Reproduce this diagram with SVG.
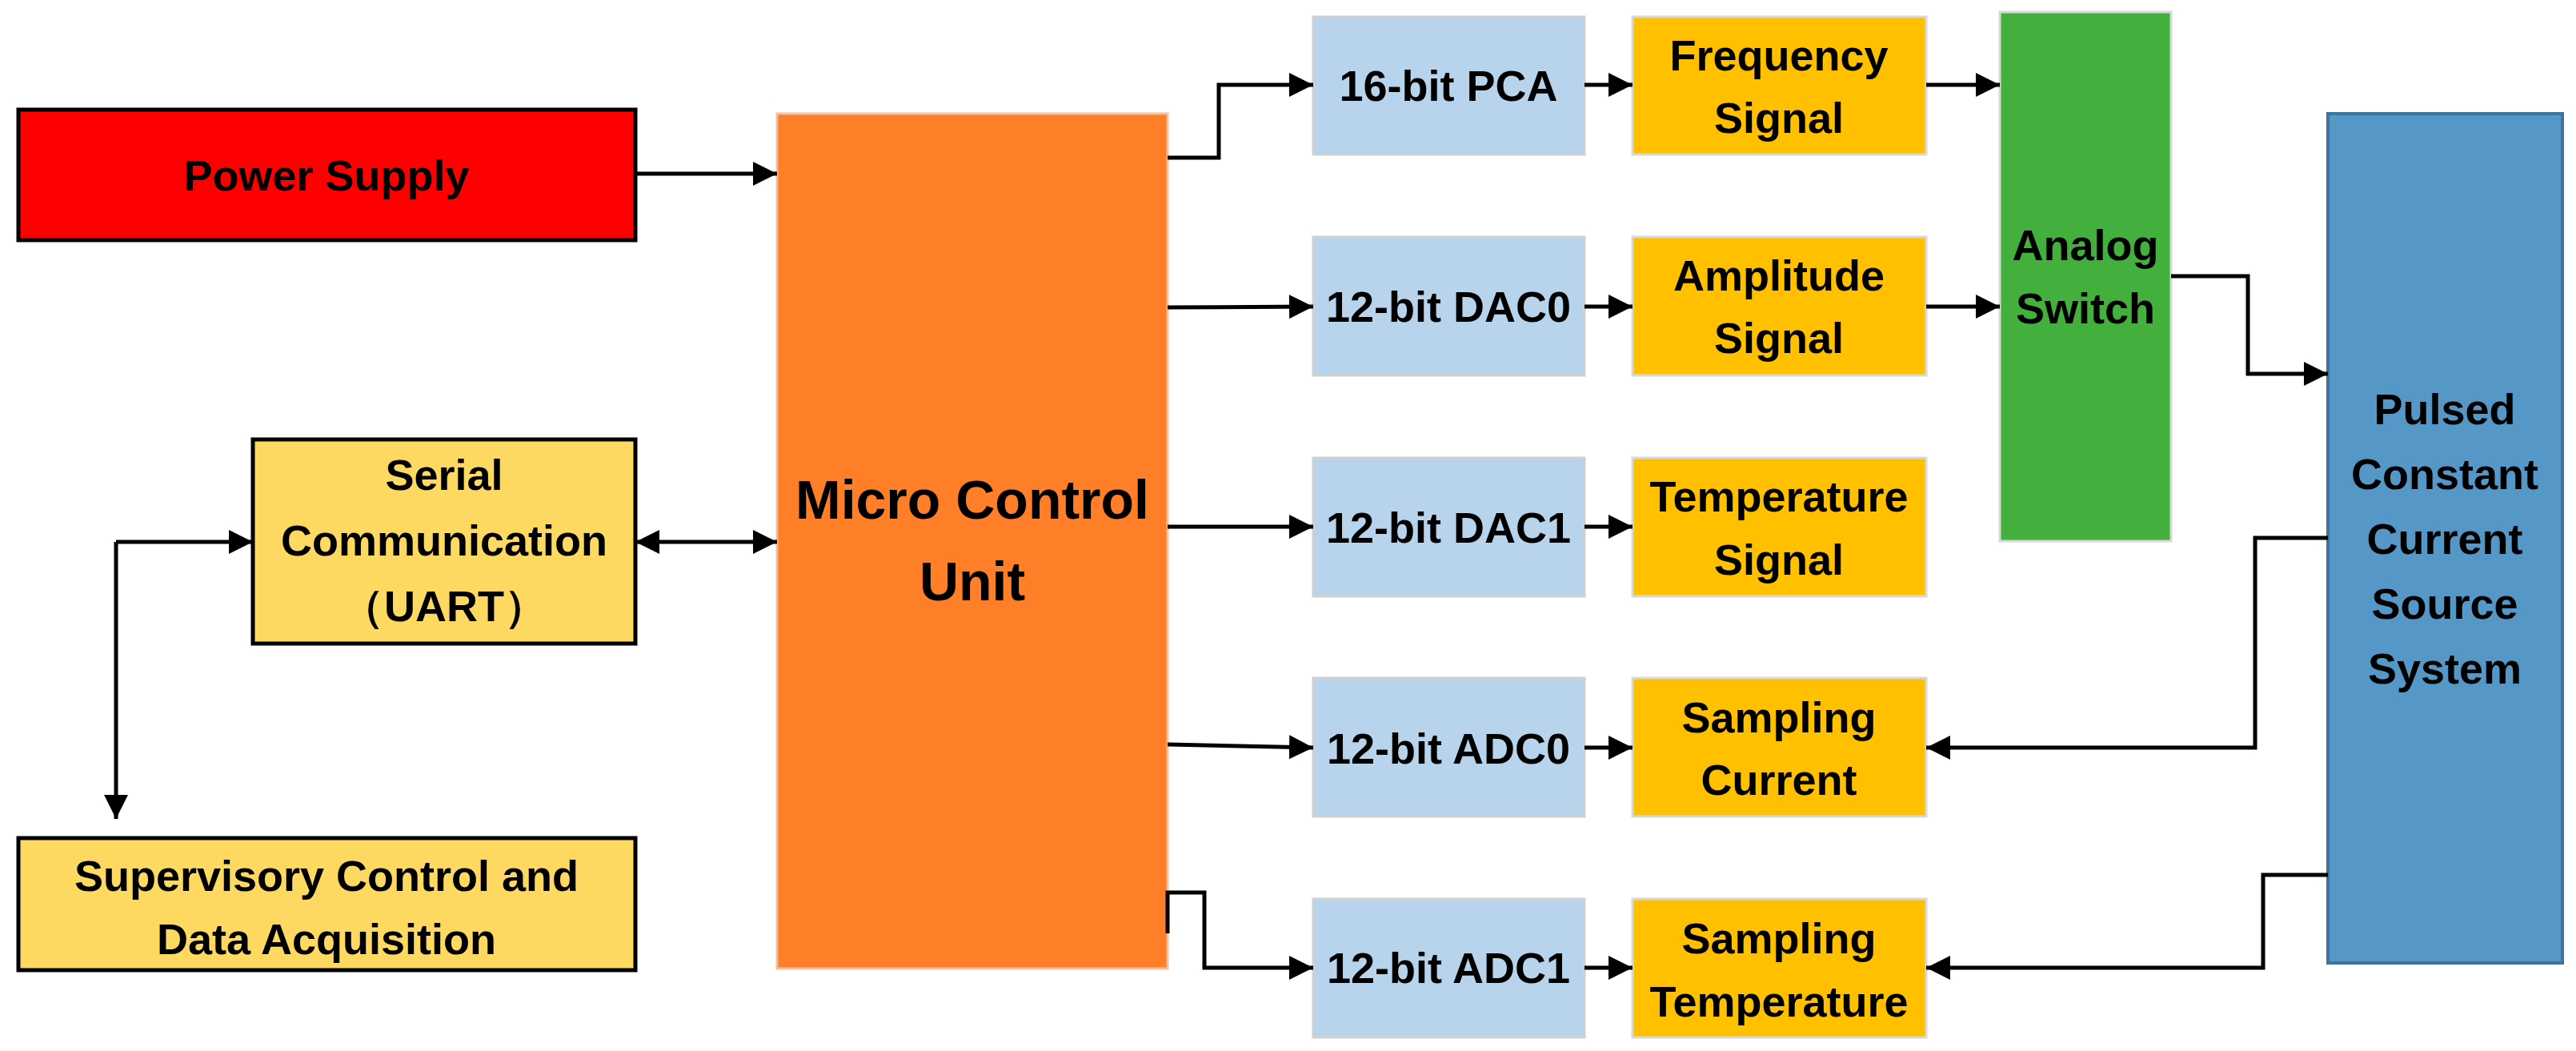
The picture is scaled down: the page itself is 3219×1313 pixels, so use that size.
<svg xmlns="http://www.w3.org/2000/svg" width="3219" height="1313" viewBox="0 0 3219 1313">
<defs>
<marker id="a" viewBox="0 0 10 10" refX="10" refY="5" markerWidth="6" markerHeight="6" markerUnits="strokeWidth" orient="auto-start-reverse"><path d="M0,0L10,5L0,10z" fill="#000"/></marker>
<style>
text{font-family:"Liberation Sans",Arial,sans-serif;font-weight:bold;font-size:54px;text-anchor:middle;fill:#000}
.big{font-size:68px}
.k{stroke:#000;stroke-width:5}
.lb{fill:#b8d3ec;stroke:#d0d0d0;stroke-width:3}
.or{fill:#ffc000;stroke:#d8d8d8;stroke-width:3}
#conn path{fill:none;stroke:#000;stroke-width:5;marker-end:url(#a)}
</style>
</defs>
<rect width="3219" height="1313" fill="#fff"/>
<g id="power"><rect x="23" y="137" width="771" height="163" fill="#ff0000" class="k"/><text x="408" y="238">Power Supply</text></g>
<g id="serial"><rect x="316" y="549" width="478" height="255" fill="#fdd962" class="k"/><text x="555" y="612">Serial</text><text x="555" y="694">Communication</text><text x="555" y="776">（UART）</text></g>
<g id="scada"><rect x="23" y="1047" width="771" height="165" fill="#fdd962" class="k"/><text x="408" y="1113">Supervisory Control and</text><text x="408" y="1192">Data Acquisition</text></g>
<g id="mcu"><rect x="971" y="142" width="488" height="1068" fill="#fe7f27" stroke="#f0c0a0" stroke-width="3"/><text class="big" x="1215" y="648">Micro Control</text><text class="big" x="1215" y="750">Unit</text></g>
<g id="pca"><rect class="lb" x="1641" y="21" width="339" height="172"/><text x="1810" y="126">16-bit PCA</text></g>
<g id="dac0"><rect class="lb" x="1641" y="296" width="339" height="173"/><text x="1810" y="402">12-bit DAC0</text></g>
<g id="dac1"><rect class="lb" x="1641" y="572" width="339" height="173"/><text x="1810" y="678">12-bit DAC1</text></g>
<g id="adc0"><rect class="lb" x="1641" y="847" width="339" height="173"/><text x="1810" y="954">12-bit ADC0</text></g>
<g id="adc1"><rect class="lb" x="1641" y="1123" width="339" height="173"/><text x="1810" y="1228">12-bit ADC1</text></g>
<g id="freq"><rect class="or" x="2040" y="21" width="367" height="172"/><text x="2223" y="88">Frequency</text><text x="2223" y="166">Signal</text></g>
<g id="amp"><rect class="or" x="2040" y="296" width="367" height="173"/><text x="2223" y="363">Amplitude</text><text x="2223" y="441">Signal</text></g>
<g id="temp"><rect class="or" x="2040" y="572" width="367" height="173"/><text x="2223" y="639">Temperature</text><text x="2223" y="718">Signal</text></g>
<g id="sc"><rect class="or" x="2040" y="847" width="367" height="173"/><text x="2223" y="915">Sampling</text><text x="2223" y="993">Current</text></g>
<g id="st"><rect class="or" x="2040" y="1123" width="367" height="173"/><text x="2223" y="1191">Sampling</text><text x="2223" y="1270">Temperature</text></g>
<g id="switch"><rect x="2499" y="15" width="214" height="661" fill="#43b03d" stroke="#d8d8d8" stroke-width="3"/><text x="2606" y="325">Analog</text><text x="2606" y="404">Switch</text></g>
<g id="pccs"><rect x="2909" y="142" width="293" height="1061" fill="#5597c6" stroke="#3e73a0" stroke-width="4"/><text x="3055" y="530">Pulsed</text><text x="3055" y="611">Constant</text><text x="3055" y="692">Current</text><text x="3055" y="773">Source</text><text x="3055" y="854">System</text></g>
<g id="conn">
<path d="M880,677H794"/><path d="M880,677H971"/>
<path d="M794,217H971"/>
<path d="M145,677V1023"/><path d="M145,677H316"/>
<path d="M1459,197H1523V106H1641"/>
<path d="M1459,384L1641,383"/>
<path d="M1459,658H1641"/>
<path d="M1459,930L1641,934"/>
<path d="M1459,1166V1115H1505V1209H1641"/>
<path d="M1980,106H2040"/><path d="M1980,383H2040"/><path d="M1980,658H2040"/><path d="M1980,934H2040"/><path d="M1980,1209H2040"/>
<path d="M2407,106H2499"/><path d="M2407,383H2499"/>
<path d="M2713,345H2809V467H2909"/>
<path d="M2909,672H2818V934H2407"/>
<path d="M2909,1093H2828V1209H2407"/>
</g>
</svg>
